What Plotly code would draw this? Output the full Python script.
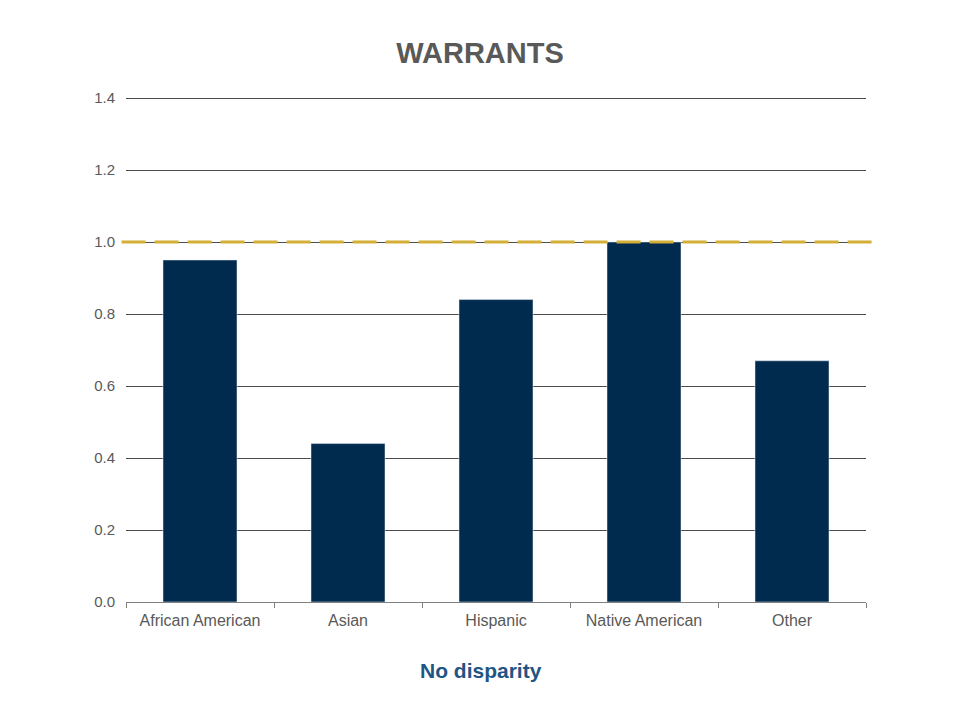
import plotly.graph_objects as go

categories = ["African American", "Asian", "Hispanic", "Native American", "Other"]
values = [0.95, 0.44, 0.84, 1.00, 0.67]
y_ticks = [0.0, 0.2, 0.4, 0.6, 0.8, 1.0, 1.2, 1.4]
no_disparity_level = 1.0

fig = go.Figure()
fig.add_trace(go.Bar(x=categories, y=values, marker_color="#002B4E", width=0.5))

fig.add_shape(type="line", xref="paper", yref="y", x0=-0.006, x1=1.008,
              y0=no_disparity_level, y1=no_disparity_level,
              line=dict(color="#D4AF37", width=3, dash="24px,9px"), layer="above")

fig.add_annotation(text="<b>No disparity</b>", xref="paper", yref="paper",
                   x=(481-126)/740, y=(602-670)/506, showarrow=False,
                   font=dict(family="Liberation Sans, Arial", size=21, color="#1F5583"),
                   xanchor="center", yanchor="middle")

fig.update_layout(
    width=960, height=720,
    margin=dict(l=126, r=94, t=96, b=118),
    paper_bgcolor="white", plot_bgcolor="white",
    title=dict(text="<b>WARRANTS</b>", x=0.5, xref="container", y=1-53/720, yref="container",
               xanchor="center", yanchor="middle",
               font=dict(family="Liberation Sans, Arial", size=29, color="#595959")),
    font=dict(family="Liberation Sans, Arial", size=15, color="#595959"),
    showlegend=False,
    bargap=0.5,
)
fig.update_xaxes(showline=True, linecolor="#808080", linewidth=1, ticks="outside",
                 tickson="boundaries", ticklen=5, tickcolor="#808080", showgrid=False,
                 ticklabelstandoff=4,
                 tickfont=dict(size=16, color="#595959"))
fig.update_yaxes(range=[0, 506/360], tickvals=y_ticks, tickformat=".1f", showgrid=True,
                 gridcolor="#4d4d4d", gridwidth=1, zeroline=False, showline=False,
                 ticks="", ticklabelstandoff=10, tickfont=dict(size=15, color="#595959"))

fig.write_html("out.html")
